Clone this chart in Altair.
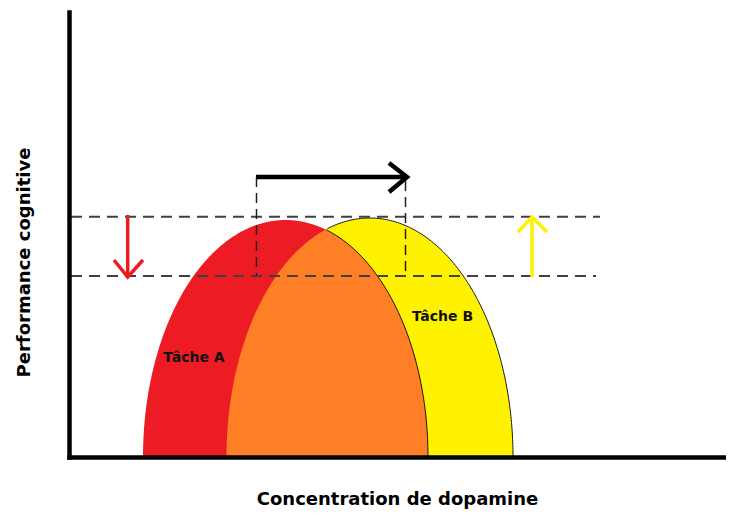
import numpy as np
import pandas as pd
import altair as alt

# ---- data (concentration / performance in chart units) ----
tasks = ["Tâche A", "Tâche B"]
peak_conc = [216.5, 300.75]      # concentration at the top of each curve
half_width = [142.5, 143.25]     # half the base width of each curve
peak_perf = [237.0, 239.0]       # performance at the top
task_colors = ["#ED1C24", "#FFF200"]
overlap_color = "#FF7F27"

label_conc = [125.0, 373.5]
label_perf = [99.0, 140.0]

levels = [240.3, 181.0]          # dashed performance levels
level_start = [2.0, 2.0]
level_end = [531.0, 527.0]

box_x = [187.5, 336.5]           # vertical dashed lines (shift of the optimum)
box_top = [280.0, 276.0]
box_bottom = [181.0, 181.0]

# arrows: shaft start, tip, and the two ends of the head
arrow_names = ["shift", "down", "up"]
arrow_colors = ["#000000", "#ED1C24", "#FFF200"]
arrow_widths = [4.5, 3.5, 3.5]
shaft_start = [(187.0, 280.0), (58.7, 242.0), (463.0, 180.0)]
shaft_tip = [(338.0, 280.0), (58.7, 180.0), (463.0, 240.0)]
head_a = [(320.0, 294.0), (45.0, 197.0), (449.0, 225.0)]
head_b = [(320.0, 265.0), (74.0, 197.0), (478.0, 225.0)]

x_title = "Concentration de dopamine"
y_title = "Performance cognitive"

X_MAX, Y_MAX = 657, 445
FONT = "DejaVu Sans"


def arch(i, n=241):
    t = np.linspace(0, np.pi, n)
    x = peak_conc[i] - half_width[i] * np.cos(t)
    y = peak_perf[i] * np.sin(t)
    return x, y


def arch_y(i, x):
    u = np.clip((x - peak_conc[i]) / half_width[i], -1, 1)
    return peak_perf[i] * np.sqrt(1 - u ** 2)


xa, ya = arch(0)
xb, yb = arch(1)
df_a = pd.DataFrame({"x": xa, "y": ya})
df_b = pd.DataFrame({"x": xb, "y": yb})

# overlap region
lo = peak_conc[1] - half_width[1]
hi = peak_conc[0] + half_width[0]
grid = np.linspace(lo + 5, hi - 5, 4001)
x_int = grid[np.argmin(np.abs(arch_y(0, grid) - arch_y(1, grid)))]
xs = np.unique(np.concatenate([xa[(xa >= lo) & (xa <= hi)], xb[(xb >= lo) & (xb <= hi)], [x_int]]))
df_o = pd.DataFrame({"x": xs, "y": np.minimum(arch_y(0, xs), arch_y(1, xs))})

df_outline = pd.concat([
    pd.DataFrame({"x": xb[xb >= x_int], "y": yb[xb >= x_int], "g": "b"}),
    pd.DataFrame({"x": xa[xa >= x_int], "y": ya[xa >= x_int], "g": "a"}),
])

df_lab = pd.DataFrame({"x": label_conc, "y": label_perf, "t": tasks})
df_lvl = pd.DataFrame({"x": level_start, "x2": level_end, "y": levels})
df_box = pd.DataFrame({"x": box_x, "y": box_top, "y2": box_bottom})

rows = []
for k, name in enumerate(arrow_names):
    for o, p in enumerate([shaft_start[k], shaft_tip[k]]):
        rows.append(dict(g=name + "_shaft", o=o, x=p[0], y=p[1], c=arrow_colors[k], w=arrow_widths[k]))
    for o, p in enumerate([head_a[k], shaft_tip[k], head_b[k]]):
        rows.append(dict(g=name + "_head", o=o, x=p[0], y=p[1], c=arrow_colors[k], w=arrow_widths[k]))
df_arr = pd.DataFrame(rows)

xs_ = alt.Scale(domain=[0, X_MAX], nice=False, zero=False)
ys_ = alt.Scale(domain=[0, Y_MAX], nice=False, zero=False)
x_axis = alt.Axis(ticks=False, labels=False, grid=False, domain=True, domainColor="black",
                  domainWidth=4.5, domainCap="square", zindex=1,
                  titleFont=FONT, titleFontSize=18, titleFontWeight="bold", titleColor="black",
                  titleX=328, titleY=47, titleAlign="center", titleBaseline="alphabetic")
y_axis = alt.Axis(ticks=False, labels=False, grid=False, domain=True, domainColor="black",
                  domainWidth=4.5, domainCap="square", zindex=1,
                  titleFont=FONT, titleFontSize=18, titleFontWeight="bold", titleColor="black",
                  titleX=-45, titleY=250, titleAngle=270, titleAlign="center", titleBaseline="middle")


def X(f="x"):
    return alt.X(f"{f}:Q", scale=xs_, axis=x_axis, title=x_title)


def Y(f="y"):
    return alt.Y(f"{f}:Q", scale=ys_, axis=y_axis, title=y_title)


area_b = alt.Chart(df_b).mark_area(color=task_colors[1]).encode(x=X(), y=Y(), y2=alt.datum(0))
area_a = alt.Chart(df_a).mark_area(color=task_colors[0]).encode(x=X(), y=Y(), y2=alt.datum(0))
area_o = alt.Chart(df_o).mark_area(color=overlap_color).encode(x=X(), y=Y(), y2=alt.datum(0))
outline = alt.Chart(df_outline).mark_line(color="#1a1a1a", strokeWidth=1).encode(
    x=X(), y=Y(), detail="g:N")

lvl = alt.Chart(df_lvl).mark_rule(color="#404040", strokeWidth=2, strokeDash=[11, 7]).encode(
    x=X(), x2="x2:Q", y=Y())
box = alt.Chart(df_box).mark_rule(color="#202020", strokeWidth=1.5, strokeDash=[10, 6]).encode(
    x=X(), y=Y(), y2="y2:Q")

arrows = alt.Chart(df_arr).mark_line(strokeCap="butt", strokeJoin="miter").encode(
    x=X(), y=Y(), detail="g:N", order="o:Q",
    color=alt.Color("c:N", scale=None), strokeWidth=alt.StrokeWidth("w:Q", scale=None))

labels = alt.Chart(df_lab).mark_text(font=FONT, fontSize=14, fontWeight="bold", color="#111111",
                                     align="center", baseline="middle").encode(
    x=X(), y=Y(), text="t:N")

chart = alt.layer(area_b, area_a, area_o, outline, lvl, box, arrows, labels).properties(
    width=X_MAX, height=Y_MAX,
    padding={"left": 61, "top": 4, "right": 0, "bottom": 53},
    autosize=alt.AutoSizeParams(type="none"),
).configure_view(stroke=None)

chart.save("out.html", embed_options={"renderer": "svg", "actions": False})
